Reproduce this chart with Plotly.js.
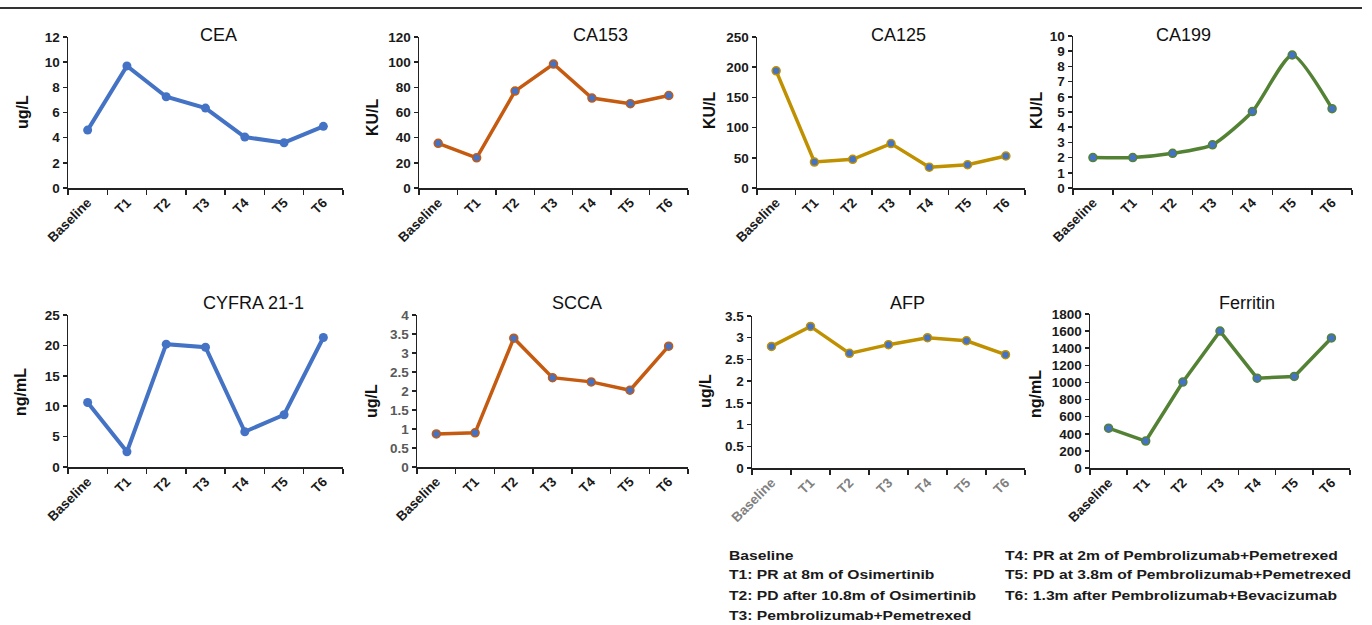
<!DOCTYPE html>
<html><head><meta charset="utf-8">
<script src="https://cdn.plot.ly/plotly-3.0.1.min.js"></script>
<style>html,body{margin:0;padding:0;background:#fff}#chart{width:1372px;height:625px}</style>
</head><body><div id="chart"></div>
<script>
const timepoints = ["Baseline","T1","T2","T3","T4","T5","T6"];
const markerNames = ["CEA","CA153","CA125","CA199","CYFRA 21-1","SCCA","AFP","Ferritin"];
const units = ["ug/L","KU/L","KU/L","KU/L","ng/mL","ug/L","ug/L","ng/mL"];
const cea = [4.6, 9.7, 7.25, 6.35, 4.05, 3.6, 4.9];
const ca153 = [35.5, 24, 77, 98.5, 71.5, 67, 73.5];
const ca125 = [194, 43, 47.5, 73.5, 34.5, 38.5, 53];
const ca199 = [2.0, 2.0, 2.28, 2.84, 5.03, 8.75, 5.22];
const cyfra = [10.6, 2.5, 20.2, 19.7, 5.8, 8.6, 21.3];
const scca = [0.87, 0.90, 3.39, 2.35, 2.24, 2.02, 3.18];
const afp = [2.8, 3.26, 2.64, 2.84, 3.0, 2.93, 2.61];
const ferritin = [465, 315, 1005, 1600, 1050, 1070, 1520];
const yMax = [12, 120, 250, 10, 25, 4, 3.5, 1800];
const yStep = [2, 20, 50, 1, 5, 0.5, 0.5, 200];
const legendLeft = ["Baseline","T1: PR at 8m of Osimertinib","T2: PD after 10.8m of Osimertinib","T3: Pembrolizumab+Pemetrexed"];
const legendRight = ["T4: PR at 2m of Pembrolizumab+Pemetrexed","T5: PD at 3.8m of Pembrolizumab+Pemetrexed","T6: 1.3m after Pembrolizumab+Bevacizumab"];

const series = [cea, ca153, ca125, ca199, cyfra, scca, afp, ferritin];
const lineColors = ["#4472C4","#C55A11","#BF9000","#548235","#4472C4","#C55A11","#BF9000","#548235"];
const W = 1372, H = 625;
const boxes = [
  [68,343,37,188],[419,688,37,188],[757,1025,37,188],[1073,1352,36,188],
  [68,343,315,467],[417,688,315,467],[752,1025,316,468],[1090,1350,314,468]
];
const titleX = [218,600,898,1183,253,577,907,1247];
const titleY = [35,35,35,35,303,303,303,303];
const ylabX = [22,372,710,1037,20,372,705,1035];
const ylabY = [112,117,110,110,392,401,391,394];
const FONT = "'Liberation Sans', Arial, sans-serif";

const data = [], annotations = [];
const layout = {
  width: W, height: H, margin: {l:0,r:0,t:0,b:0},
  paper_bgcolor: "#fff", plot_bgcolor: "#fff", showlegend: false,
  font: {family: FONT, color: "#1a1a1a"},
  shapes: [{type:"line", xref:"paper", yref:"paper", x0:0, x1:1362/W, y0:1-8/H, y1:1-8/H, line:{color:"#333", width:2}}]
};
for (let i = 0; i < 8; i++) {
  const s = i === 0 ? "" : String(i+1);
  const b = boxes[i];
  const solidBlue = (i === 0 || i === 4);
  data.push({
    x: timepoints, y: series[i], type: "scatter", mode: "lines+markers",
    xaxis: "x"+s, yaxis: "y"+s,
    line: {color: lineColors[i], width: solidBlue ? 4 : 3.5, shape: i === 3 ? "spline" : "linear", smoothing: 0.6},
    marker: {color: "#4472C4", size: solidBlue ? 9 : 8, line: {color: lineColors[i], width: solidBlue ? 0 : 1.5}},
    hoverinfo: "x+y"
  });
  const xTickColor = i === 6 ? "#7f7f7f" : "#1a1a1a";
  const yTickColor = i === 5 ? "#595959" : "#1a1a1a";
  layout["xaxis"+s] = {
    domain: [b[0]/W, b[1]/W], anchor: "y"+s, type: "category",
    range: [-0.5, 6.5], tickson: "boundaries", ticks: "outside", ticklen: 5, tickwidth: 1.5, tickcolor: "#222",
    showline: true, linecolor: "#222", linewidth: 1.5, showgrid: false, zeroline: false,
    tickangle: -45, tickfont: {family: FONT, size: 13.5, weight: "bold", color: xTickColor}
  };
  layout["yaxis"+s] = {
    domain: [1 - b[3]/H, 1 - b[2]/H], anchor: "x"+s,
    range: [0, yMax[i]], dtick: yStep[i], tick0: 0, ticks: "outside", ticklen: 4, tickwidth: 1.5, tickcolor: "#222",
    showline: true, linecolor: "#222", linewidth: 1.5, showgrid: false, zeroline: false,
    tickfont: {family: FONT, size: 13.5, weight: "bold", color: yTickColor}
  };
  annotations.push({xref:"paper", yref:"paper", x: titleX[i]/W, y: 1 - titleY[i]/H, yanchor:"middle", xanchor:"center",
    text: markerNames[i], showarrow:false, font:{family: FONT, size: 18, color:"#111"}});
  annotations.push({xref:"paper", yref:"paper", x: ylabX[i]/W, y: 1 - ylabY[i]/H, xanchor:"center", yanchor:"middle",
    text: units[i], textangle: -90, showarrow:false, font:{family: FONT, size: 16, weight: "bold", color:"#111"}});
}
const legendRows = [555, 574.5, 595, 615];
const legFont = {family: FONT, size: 13.5, weight: "bold", color: "#1a1a1a"};
legendLeft.forEach((t, k) => annotations.push({xref:"paper", yref:"paper", x: 727/W, y: 1 - legendRows[k]/H,
  xanchor:"left", yanchor:"middle", align:"left", text: t, showarrow:false, font: legFont}));
legendRight.forEach((t, k) => annotations.push({xref:"paper", yref:"paper", x: 1003/W, y: 1 - legendRows[k]/H,
  xanchor:"left", yanchor:"middle", align:"left", text: t, showarrow:false, font: legFont}));
layout.annotations = annotations;
Plotly.newPlot("chart", data, layout, {staticPlot: true, displayModeBar: false}).then(() => {
  const legendTexts = legendLeft.concat(legendRight);
  document.querySelectorAll("#chart text.annotation-text").forEach(el => {
    if (legendTexts.indexOf(el.textContent) >= 0) {
      const w = el.getComputedTextLength();
      el.setAttribute("textLength", (w * 1.16).toFixed(1));
      el.setAttribute("lengthAdjust", "spacingAndGlyphs");
    }
  });
});
</script></body></html>
